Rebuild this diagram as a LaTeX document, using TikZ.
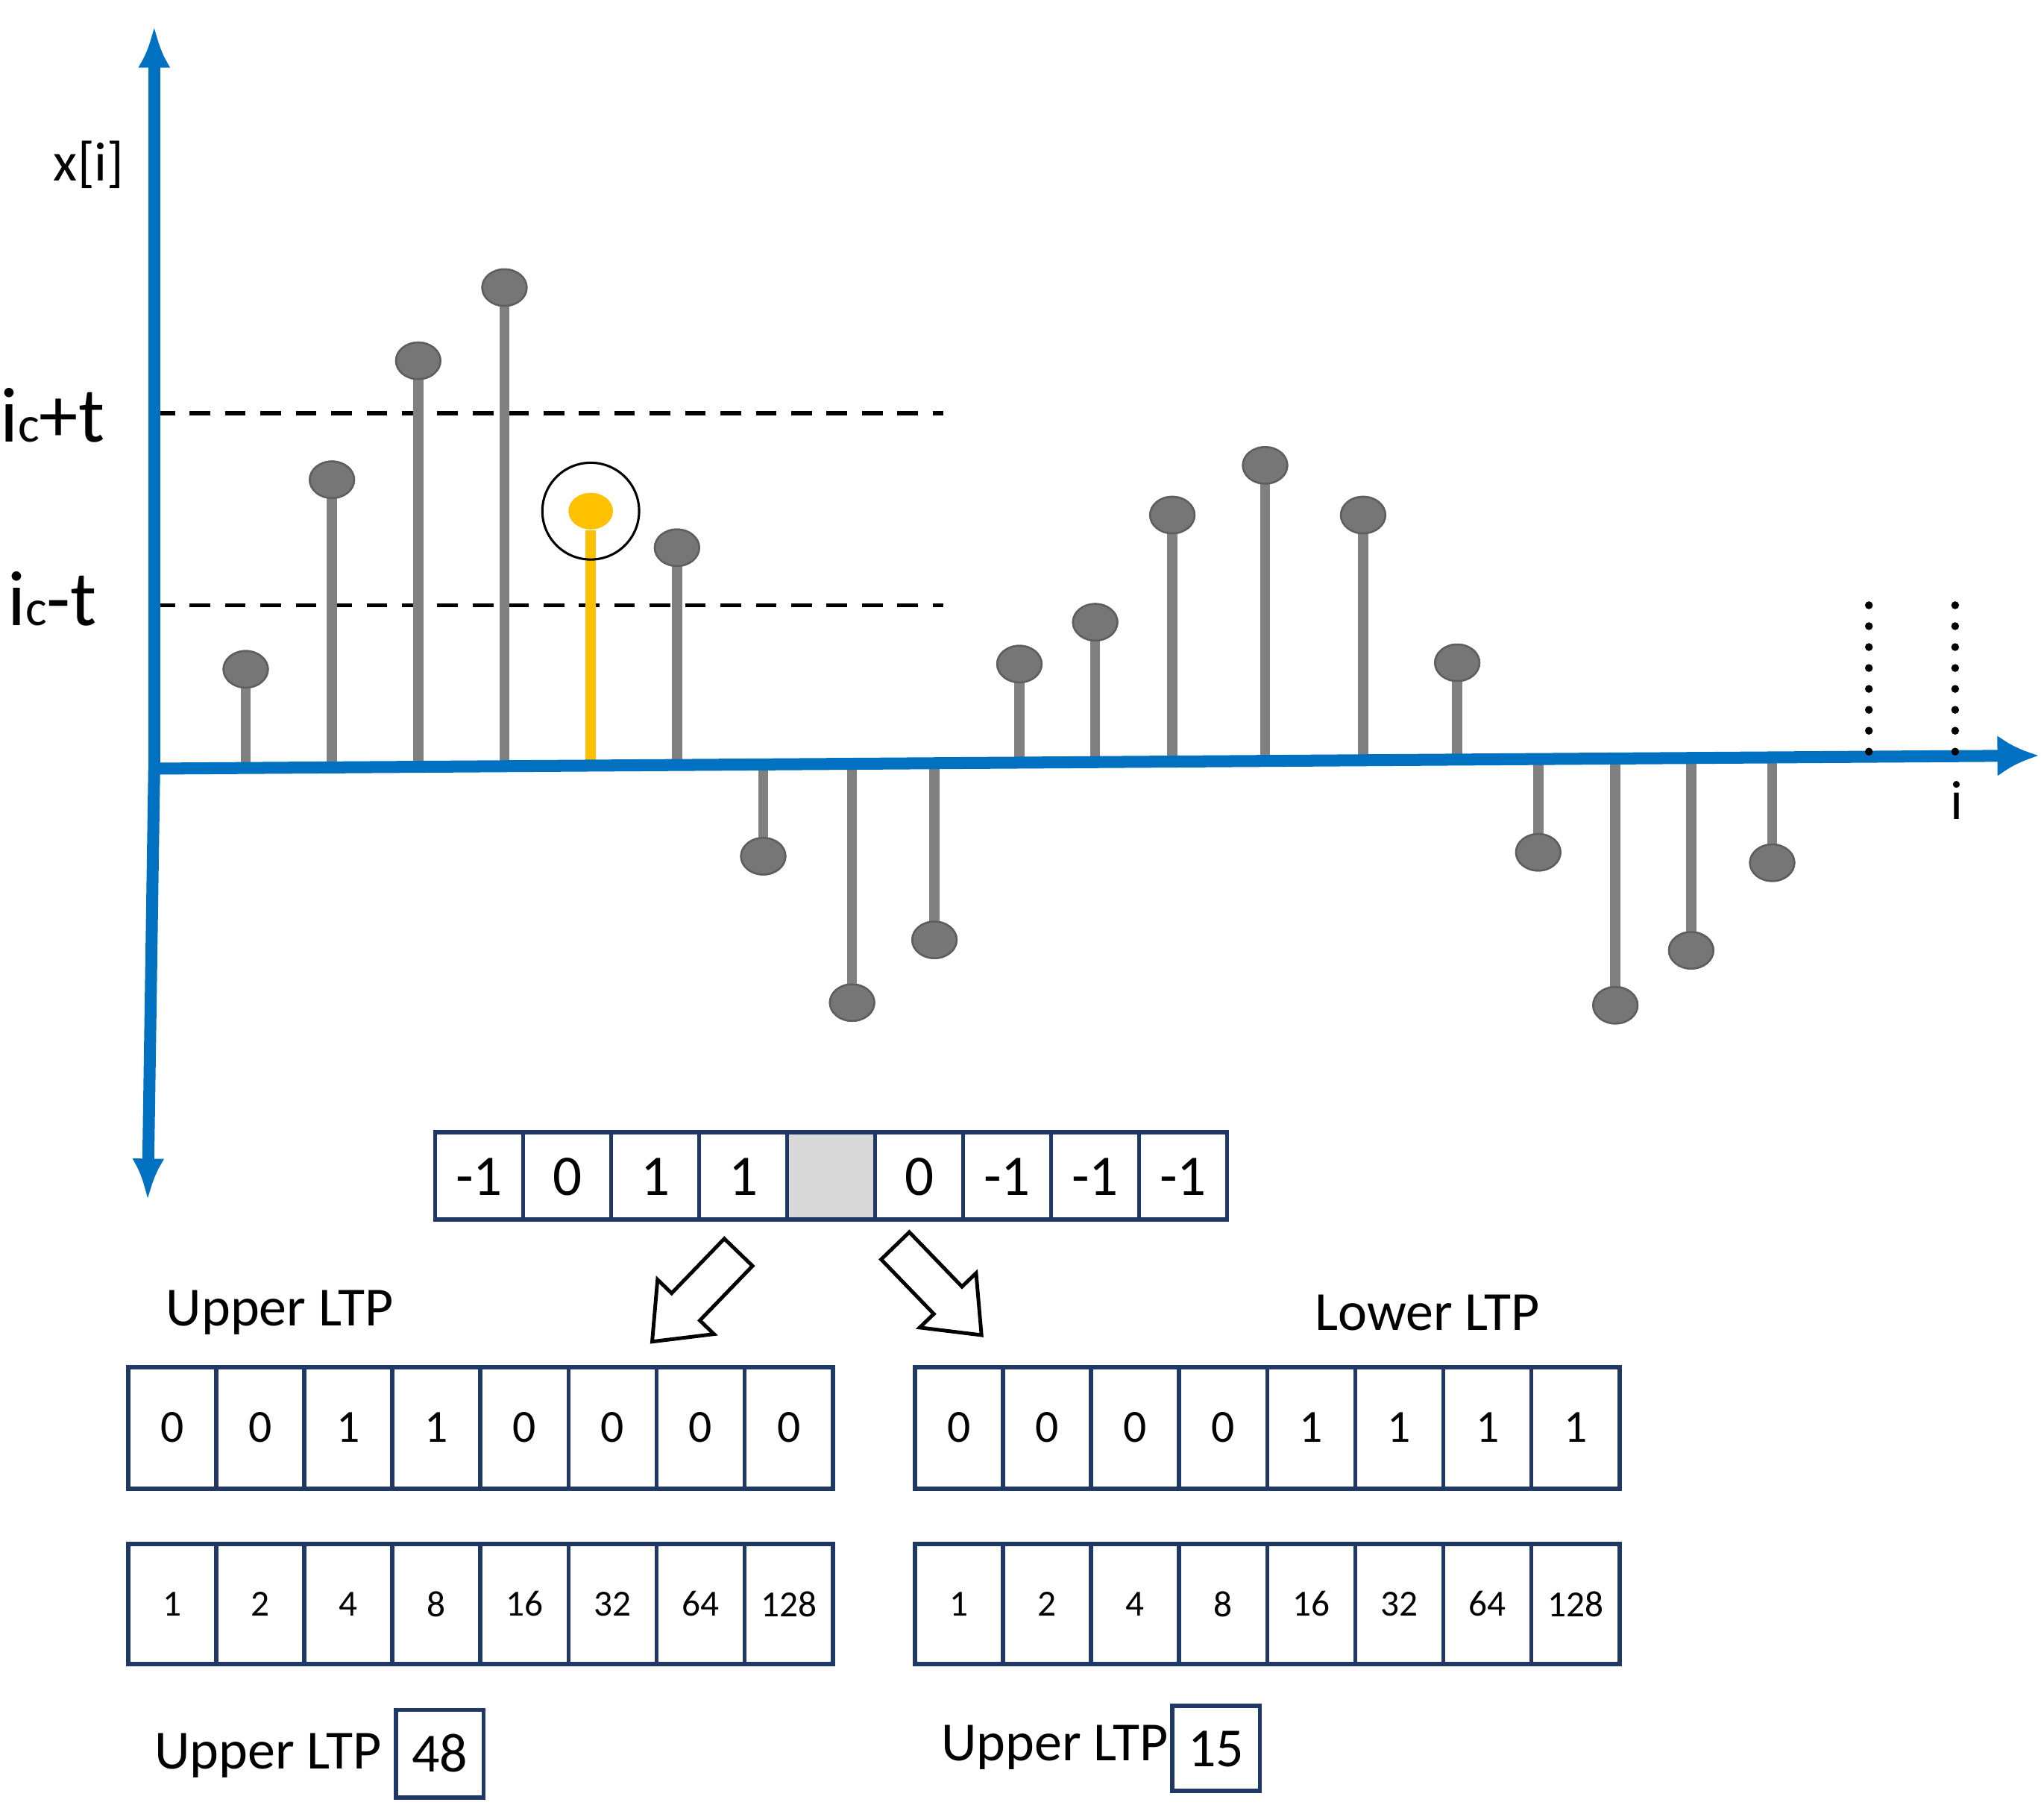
\documentclass[tikz,border=0pt]{standalone}
\usepackage{fontspec}
\setmainfont{Carlito}
\usetikzlibrary{shapes.geometric,arrows.meta}
\definecolor{axblue}{RGB}{0,112,192}
\definecolor{stem}{RGB}{128,128,128}
\definecolor{ball}{RGB}{118,118,118}
\definecolor{boxc}{RGB}{31,56,100}
\definecolor{orng}{RGB}{255,192,0}
\tikzset{
 ball/.style={ellipse,fill=ball,draw=ball!80!black,minimum width=0.34cm,minimum height=0.28cm,inner sep=0},
 stemln/.style={stem,line width=2.2pt},
 cell/.style={draw=boxc,line width=0.9pt},
 blk/.style={draw=black,line width=0.8pt,fill=white},
 dsh/.style={line width=0.9pt,dash pattern=on 4.5pt off 3.2pt},
}
\begin{document}
\begin{tikzpicture}[x=0.01cm,y=-0.01cm]
\useasboundingbox (0,0) rectangle (1564,1385);
% dashed levels
\draw[dsh] (118,316) -- (722,316);
\draw[dsh] (118,463) -- (722,463);
% stems
\foreach \x/\y [count=\k] in {188/512,254/367,320/276,386/220,518/419,584/655,652/767,715/719,780/508,838/476,897/394,968/356,1043/394,1115/507,1177/652,1236/769,1294/727,1356/660}{
  \coordinate (b\k) at (\x,{588-(\x-118)*10/1442});
  \node[ball] (p\k) at (\x,\y) {};
  \draw[stemln] (b\k) -- (p\k.center);
  \node[ball] at (\x,\y) {};
}
\coordinate (bo) at (452,{588-(452-118)*10/1442});
\node[ellipse,fill=orng,minimum width=0.34cm,minimum height=0.28cm,inner sep=0] (po) at (452,391) {};
\draw[orng,line width=2.2pt] (bo) -- (po.south);
\node[circle,draw=black,line width=0.5pt,minimum size=0.74cm] (ring) at (452,391) {};
% axes
\coordinate (O) at (118,588);
\coordinate (Xe) at (1560,578);
\coordinate (Ye) at (118,20);
\coordinate (Yd) at (113,918);
\draw[axblue,line width=2.6pt,-{Latex[length=9pt,width=9pt]}] (O) -- (Xe);
\draw[axblue,line width=2.6pt,-{Latex[length=9pt,width=7pt]}] (O) -- (Ye);
\draw[axblue,line width=2.6pt,-{Latex[length=9pt,width=7pt]}] (O) -- (Yd);
% dots
\foreach \xx in {1430,1496}{\foreach \yy in {463,479,...,576}{\fill (\xx,\yy) circle (3);}}
% labels
\node (xl) at (68,126) {\fontsize{12}{14}\selectfont x[i]};
\node (il) at (1497,612) {\fontsize{12}{14}\selectfont i};
\node (ict) at (40,318) {\fontsize{17}{20}\selectfont i{\fontsize{11}{12}\selectfont c}+t};
\node (icm) at (40,458) {\fontsize{17}{20}\selectfont i{\fontsize{11}{12}\selectfont c}-t};
% top array
\fill[gray!30] (602.3,866) rectangle (669.7,933);
\foreach \v [count=\k from 0] in {-1,0,1,1,,0,-1,-1,-1}{
  \draw[cell] ({333+\k*67.33},866) rectangle ({333+(\k+1)*67.33},933);
  \node at ({333+(\k+0.5)*67.33},900) {\fontsize{12.5}{15}\selectfont \v};
}
% block arrows
\begin{scope}[shift={(565,958)},rotate=-134]
 \draw[blk] (0,-15) -- (58,-15) -- (58,-30) -- (95,0) -- (58,30) -- (58,15) -- (0,15) -- cycle;
\end{scope}
\begin{scope}[shift={(685,953)},rotate=-46]
 \draw[blk] (0,-15) -- (58,-15) -- (58,-30) -- (95,0) -- (58,30) -- (58,15) -- (0,15) -- cycle;
\end{scope}
\node (ul) at (214,1004) {\fontsize{12}{14}\selectfont Upper LTP};
\node (ll) at (1092,1004) {\fontsize{12}{14}\selectfont Lower LTP};
% LTP grids
\foreach \xs/\vals in {98/{0,0,1,1,0,0,0,0},700/{0,0,0,0,1,1,1,1}}{
 \foreach \v [count=\k from 0] in \vals{
  \draw[cell] ({\xs+\k*67.4},1046) rectangle ({\xs+(\k+1)*67.4},1139);
  \node at ({\xs+(\k+0.5)*67.4},1092) {\fontsize{10}{12}\selectfont \v};
 }
 \foreach \v [count=\k from 0] in {1,2,4,8,16,32,64,128}{
  \draw[cell] ({\xs+\k*67.4},1181) rectangle ({\xs+(\k+1)*67.4},1273);
  \node at ({\xs+(\k+0.5)*67.4},1227) {\fontsize{8}{10}\selectfont \v};
 }
}
\node (r1) at (205,1343) {\fontsize{12}{14}\selectfont Upper LTP};
\draw[cell] (303,1308) rectangle (370,1375);
\node (v1) at (336.5,1341) {\fontsize{12}{14}\selectfont 48};
\node (r2) at (807,1337) {\fontsize{12}{14}\selectfont Upper LTP};
\draw[cell] (897,1305) rectangle (964,1370);
\node (v2) at (930.5,1338) {\fontsize{12}{14}\selectfont 15};
\end{tikzpicture}
\end{document}
